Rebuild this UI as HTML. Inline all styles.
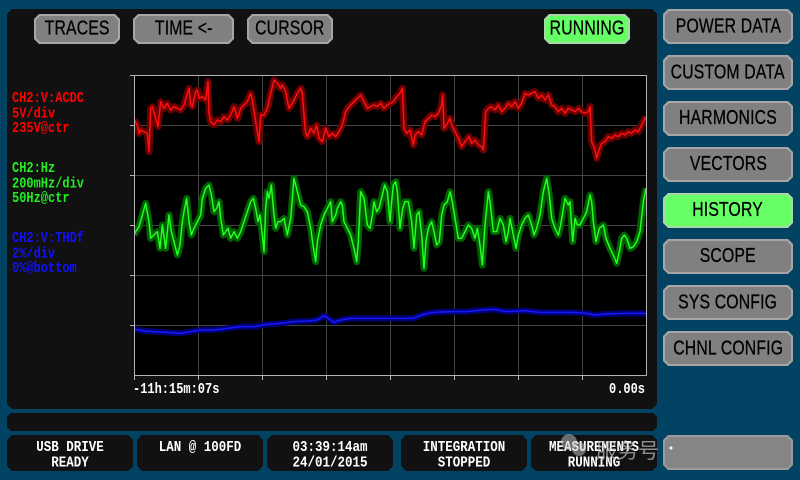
<!DOCTYPE html>
<html><head><meta charset="utf-8">
<style>
html,body{margin:0;padding:0;}
body{width:800px;height:480px;background:#024262;position:relative;overflow:hidden;font-family:"Liberation Sans",sans-serif;}
.a{position:absolute;}
.ch5{clip-path:polygon(5px 0,calc(100% - 5px) 0,100% 5px,100% calc(100% - 5px),calc(100% - 5px) 100%,5px 100%,0 calc(100% - 5px),0 5px);}
.ch4{clip-path:polygon(4px 0,calc(100% - 4px) 0,100% 4px,100% calc(100% - 4px),calc(100% - 4px) 100%,4px 100%,0 calc(100% - 4px),0 4px);}
.panel{background:#111111;}
.btn{background:#a6a6a6;}
.btn .in{position:absolute;left:2px;top:2px;right:2px;bottom:2px;background:#808080;display:flex;align-items:center;justify-content:center;}
.btn.g{background:#a8d8a8;}
.btn.g .in{background:#66ff66;}
.btn .in span{display:inline-block;font-family:"Liberation Sans",sans-serif;font-size:19px;color:#000;transform:scaleX(0.83) scaleY(1.05);white-space:nowrap;letter-spacing:0.2px;-webkit-text-stroke:0.3px #000;}
.lbl{font-family:"Liberation Mono",monospace;font-weight:bold;font-size:12px;line-height:12.5px;white-space:pre;transform:scaleY(1.2);transform-origin:0 0;}
.st{font-family:"Liberation Mono",monospace;font-weight:bold;font-size:12.5px;line-height:12.5px;color:#fff;text-align:center;white-space:pre;transform:scaleY(1.2);transform-origin:0 0;position:absolute;left:0;right:0;top:5px;}
</style></head><body>

<!-- main panel -->
<div class="a panel ch5" style="left:7px;top:9px;width:650px;height:400px;"></div>
<!-- bar -->
<div class="a panel ch4" style="left:7px;top:413px;width:650px;height:18px;"></div>

<!-- status boxes -->
<div class="a panel ch5" style="left:7px;top:435px;width:126px;height:36px;"><div class="st">USB DRIVE
READY</div></div>
<div class="a panel ch5" style="left:137px;top:435px;width:126px;height:36px;"><div class="st">LAN @ 100FD</div></div>
<div class="a panel ch5" style="left:267px;top:435px;width:126px;height:36px;"><div class="st">03:39:14am
24/01/2015</div></div>
<div class="a panel ch5" style="left:401px;top:435px;width:126px;height:36px;"><div class="st">INTEGRATION
STOPPED</div></div>
<div class="a panel ch5" style="left:531px;top:435px;width:126px;height:36px;"><div class="st">MEASUREMENTS
RUNNING</div></div>

<!-- top buttons -->
<div class="a btn ch5" style="left:34px;top:14px;width:86px;height:30px;"><div class="in ch4"><span>TRACES</span></div></div>
<div class="a btn ch5" style="left:133px;top:14px;width:101px;height:30px;"><div class="in ch4"><span>TIME &lt;-</span></div></div>
<div class="a btn ch5" style="left:247px;top:14px;width:86px;height:30px;"><div class="in ch4"><span>CURSOR</span></div></div>
<div class="a btn g ch5" style="left:544px;top:14px;width:86px;height:30px;"><div class="in ch4"><span>RUNNING</span></div></div>

<!-- right buttons -->
<div class="a btn ch5" style="left:663px;top:9px;width:130px;height:35px;"><div class="in ch4"><span>POWER DATA</span></div></div>
<div class="a btn ch5" style="left:663px;top:55px;width:130px;height:35px;"><div class="in ch4"><span>CUSTOM DATA</span></div></div>
<div class="a btn ch5" style="left:663px;top:101px;width:130px;height:35px;"><div class="in ch4"><span>HARMONICS</span></div></div>
<div class="a btn ch5" style="left:663px;top:147px;width:130px;height:35px;"><div class="in ch4"><span>VECTORS</span></div></div>
<div class="a btn g ch5" style="left:663px;top:193px;width:130px;height:35px;"><div class="in ch4"><span>HISTORY</span></div></div>
<div class="a btn ch5" style="left:663px;top:239px;width:130px;height:35px;"><div class="in ch4"><span>SCOPE</span></div></div>
<div class="a btn ch5" style="left:663px;top:285px;width:130px;height:35px;"><div class="in ch4"><span>SYS CONFIG</span></div></div>
<div class="a btn ch5" style="left:663px;top:331px;width:130px;height:35px;"><div class="in ch4"><span>CHNL CONFIG</span></div></div>
<div class="a btn ch5" style="left:663px;top:435px;width:130px;height:35px;background:#9a9a9a;"><div class="in ch4" style="background:#858585;"></div></div>

<!-- channel labels -->
<div class="a lbl" style="left:12px;top:91px;color:#ff0000;">CH2:V:ACDC
5V/div
235V@ctr</div>
<div class="a lbl" style="left:12px;top:161px;color:#22ee22;">CH2:Hz
200mHz/div
50Hz@ctr</div>
<div class="a lbl" style="left:12px;top:231px;color:#1010ff;">CH2:V:THDf
2%/div
0%@bottom</div>

<div class="a lbl" style="left:133px;top:382px;color:#fff;">-11h:15m:07s</div>
<div class="a lbl" style="left:609px;top:382px;color:#fff;">0.00s</div>

<svg class="a" style="left:0;top:0;" width="800" height="480" viewBox="0 0 800 480">
  <rect x="134" y="75" width="512" height="300" fill="#000"/>
  <g stroke="#444" stroke-width="1">
    <line x1="198.5" y1="75" x2="198.5" y2="375"/>
    <line x1="262.5" y1="75" x2="262.5" y2="375"/>
    <line x1="326.5" y1="75" x2="326.5" y2="375"/>
    <line x1="390.5" y1="75" x2="390.5" y2="375"/>
    <line x1="454.5" y1="75" x2="454.5" y2="375"/>
    <line x1="518.5" y1="75" x2="518.5" y2="375"/>
    <line x1="582.5" y1="75" x2="582.5" y2="375"/>
    <line x1="134" y1="125.5" x2="646" y2="125.5"/>
    <line x1="134" y1="175.5" x2="646" y2="175.5"/>
    <line x1="134" y1="225.5" x2="646" y2="225.5"/>
    <line x1="134" y1="275.5" x2="646" y2="275.5"/>
    <line x1="134" y1="325.5" x2="646" y2="325.5"/>
  </g>
  <defs><clipPath id="pc"><rect x="134" y="75" width="512" height="300"/></clipPath></defs>
  <g clip-path="url(#pc)">
  <g transform="translate(134,75) scale(0.333333)" fill="none" stroke-linejoin="round">
    <!-- red -->
    <polyline vector-effect="non-scaling-stroke" stroke="#6a0000" stroke-width="7" points="0,135 10,150 15,175 20,165 30,170 40,175 45,230 50,100 55,95 65,130 72,155 80,80 90,100 100,85 110,105 120,95 130,100 140,105 150,90 160,55 165,40 170,90 175,95 185,50 190,45 195,70 205,65 215,75 222,20 225,115 230,140 240,150 250,135 260,140 270,125 280,135 290,120 300,95 310,130 320,100 330,90 340,80 350,55 355,75 365,140 375,200 380,120 390,120 400,100 410,55 420,15 430,25 440,40 445,30 455,50 465,100 475,85 490,55 500,40 505,55 510,120 515,175 520,185 530,160 540,175 548,150 555,190 565,200 575,160 585,185 595,175 605,185 615,170 625,150 635,110 645,95 660,80 670,70 680,60 690,80 700,100 710,95 720,90 730,95 740,85 750,100 760,90 768,85 778,80 788,65 798,55 805,40 810,160 818,175 828,165 838,210 843,180 853,170 863,180 873,140 883,130 893,120 903,125 913,115 923,90 926,60 930,160 940,145 948,130 953,150 963,170 973,190 983,215 993,200 1005,185 1013,205 1023,195 1033,210 1043,215 1048,225 1055,110 1063,100 1073,95 1083,105 1093,90 1103,110 1113,100 1123,85 1133,95 1143,80 1153,100 1163,85 1173,55 1183,60 1193,55 1203,50 1213,70 1223,60 1233,75 1243,60 1253,90 1263,95 1273,110 1283,100 1293,115 1303,100 1313,105 1323,110 1333,100 1343,110 1353,115 1363,110 1368,95 1373,200 1383,225 1388,250 1393,230 1403,205 1413,200 1423,185 1433,190 1443,180 1453,185 1463,175 1473,180 1483,170 1493,175 1503,165 1513,170 1523,150 1536,125"/>
    <polyline vector-effect="non-scaling-stroke" stroke="#ff1010" stroke-width="1.5" points="0,135 10,150 15,175 20,165 30,170 40,175 45,230 50,100 55,95 65,130 72,155 80,80 90,100 100,85 110,105 120,95 130,100 140,105 150,90 160,55 165,40 170,90 175,95 185,50 190,45 195,70 205,65 215,75 222,20 225,115 230,140 240,150 250,135 260,140 270,125 280,135 290,120 300,95 310,130 320,100 330,90 340,80 350,55 355,75 365,140 375,200 380,120 390,120 400,100 410,55 420,15 430,25 440,40 445,30 455,50 465,100 475,85 490,55 500,40 505,55 510,120 515,175 520,185 530,160 540,175 548,150 555,190 565,200 575,160 585,185 595,175 605,185 615,170 625,150 635,110 645,95 660,80 670,70 680,60 690,80 700,100 710,95 720,90 730,95 740,85 750,100 760,90 768,85 778,80 788,65 798,55 805,40 810,160 818,175 828,165 838,210 843,180 853,170 863,180 873,140 883,130 893,120 903,125 913,115 923,90 926,60 930,160 940,145 948,130 953,150 963,170 973,190 983,215 993,200 1005,185 1013,205 1023,195 1033,210 1043,215 1048,225 1055,110 1063,100 1073,95 1083,105 1093,90 1103,110 1113,100 1123,85 1133,95 1143,80 1153,100 1163,85 1173,55 1183,60 1193,55 1203,50 1213,70 1223,60 1233,75 1243,60 1253,90 1263,95 1273,110 1283,100 1293,115 1303,100 1313,105 1323,110 1333,100 1343,110 1353,115 1363,110 1368,95 1373,200 1383,225 1388,250 1393,230 1403,205 1413,200 1423,185 1433,190 1443,180 1453,185 1463,175 1473,180 1483,170 1493,175 1503,165 1513,170 1523,150 1536,125"/>
    <!-- green -->
    <polyline vector-effect="non-scaling-stroke" stroke="#006000" stroke-width="7" points="0,480 5,470 15,455 25,420 35,385 45,440 50,490 60,480 70,470 78,520 85,450 95,520 105,420 112,470 120,500 130,540 138,510 145,440 150,410 158,370 165,440 172,480 180,460 190,440 200,420 205,370 215,340 225,330 232,360 240,410 248,400 255,380 260,430 268,480 275,470 282,460 290,490 300,470 310,490 320,470 330,440 340,410 350,380 358,370 365,400 372,440 378,420 385,480 390,530 395,400 400,350 405,370 412,330 420,420 425,460 432,440 440,440 450,430 460,480 470,430 480,310 490,350 500,390 510,395 520,410 530,460 540,530 545,560 550,500 560,450 570,420 580,400 590,380 595,440 605,420 610,400 620,380 625,390 630,440 640,460 650,480 660,520 668,560 673,500 680,350 690,370 700,450 708,460 715,420 720,380 728,410 735,400 745,360 752,330 760,350 768,440 773,380 778,330 785,320 790,350 798,460 806,400 813,380 823,380 833,440 840,520 848,420 855,410 863,480 870,580 876,500 883,460 893,440 900,470 908,510 916,500 923,420 930,390 940,380 948,350 955,380 963,430 973,490 983,490 993,470 1003,450 1013,460 1023,490 1030,460 1038,510 1045,570 1053,450 1063,350 1068,380 1078,470 1088,470 1098,430 1108,450 1116,500 1123,470 1128,430 1136,470 1146,520 1153,480 1163,450 1173,430 1183,420 1193,450 1200,480 1208,460 1218,420 1228,350 1238,310 1246,360 1253,430 1263,460 1273,480 1280,450 1288,400 1293,370 1303,390 1308,380 1316,500 1323,430 1330,450 1338,450 1348,430 1358,410 1368,360 1373,380 1378,440 1386,500 1396,460 1408,450 1416,490 1428,520 1440,545 1448,565 1456,530 1463,490 1471,480 1478,490 1488,520 1498,515 1508,500 1518,470 1528,380 1536,340"/>
    <polyline vector-effect="non-scaling-stroke" stroke="#22ff22" stroke-width="1.5" points="0,480 5,470 15,455 25,420 35,385 45,440 50,490 60,480 70,470 78,520 85,450 95,520 105,420 112,470 120,500 130,540 138,510 145,440 150,410 158,370 165,440 172,480 180,460 190,440 200,420 205,370 215,340 225,330 232,360 240,410 248,400 255,380 260,430 268,480 275,470 282,460 290,490 300,470 310,490 320,470 330,440 340,410 350,380 358,370 365,400 372,440 378,420 385,480 390,530 395,400 400,350 405,370 412,330 420,420 425,460 432,440 440,440 450,430 460,480 470,430 480,310 490,350 500,390 510,395 520,410 530,460 540,530 545,560 550,500 560,450 570,420 580,400 590,380 595,440 605,420 610,400 620,380 625,390 630,440 640,460 650,480 660,520 668,560 673,500 680,350 690,370 700,450 708,460 715,420 720,380 728,410 735,400 745,360 752,330 760,350 768,440 773,380 778,330 785,320 790,350 798,460 806,400 813,380 823,380 833,440 840,520 848,420 855,410 863,480 870,580 876,500 883,460 893,440 900,470 908,510 916,500 923,420 930,390 940,380 948,350 955,380 963,430 973,490 983,490 993,470 1003,450 1013,460 1023,490 1030,460 1038,510 1045,570 1053,450 1063,350 1068,380 1078,470 1088,470 1098,430 1108,450 1116,500 1123,470 1128,430 1136,470 1146,520 1153,480 1163,450 1173,430 1183,420 1193,450 1200,480 1208,460 1218,420 1228,350 1238,310 1246,360 1253,430 1263,460 1273,480 1280,450 1288,400 1293,370 1303,390 1308,380 1316,500 1323,430 1330,450 1338,450 1348,430 1358,410 1368,360 1373,380 1378,440 1386,500 1396,460 1408,450 1416,490 1428,520 1440,545 1448,565 1456,530 1463,490 1471,480 1478,490 1488,520 1498,515 1508,500 1518,470 1528,380 1536,340"/>
    <!-- blue -->
    <polyline vector-effect="non-scaling-stroke" stroke="#000078" stroke-width="6" points="0,762 30,768 60,770 100,772 140,775 170,770 200,765 240,765 280,760 320,755 360,755 400,748 440,745 480,740 520,738 550,735 570,722 590,735 600,742 620,735 650,730 700,730 768,730 808,730 838,730 868,718 898,712 948,710 998,710 1048,705 1078,703 1118,710 1168,707 1218,712 1268,712 1318,712 1358,715 1383,720 1418,717 1468,715 1536,715"/>
    <polyline vector-effect="non-scaling-stroke" stroke="#1818ff" stroke-width="1.5" points="0,762 30,768 60,770 100,772 140,775 170,770 200,765 240,765 280,760 320,755 360,755 400,748 440,745 480,740 520,738 550,735 570,722 590,735 600,742 620,735 650,730 700,730 768,730 808,730 838,730 868,718 898,712 948,710 998,710 1048,705 1078,703 1118,710 1168,707 1218,712 1268,712 1318,712 1358,715 1383,720 1418,717 1468,715 1536,715"/>
  </g>
  </g>
  <!-- axes / border -->
  <g stroke="#b4b4b4" stroke-width="1">
    <line x1="130" y1="75.5" x2="646.5" y2="75.5"/>
    <line x1="646.5" y1="75" x2="646.5" y2="375.5"/>
    <line x1="134.5" y1="75" x2="134.5" y2="380"/>
    <line x1="134" y1="375.5" x2="646.5" y2="375.5"/>
    <line x1="130" y1="125.5" x2="134" y2="125.5"/>
    <line x1="130" y1="175.5" x2="134" y2="175.5"/>
    <line x1="130" y1="225.5" x2="134" y2="225.5"/>
    <line x1="130" y1="275.5" x2="134" y2="275.5"/>
    <line x1="130" y1="325.5" x2="134" y2="325.5"/>
    <line x1="198.5" y1="375" x2="198.5" y2="380"/>
    <line x1="262.5" y1="375" x2="262.5" y2="380"/>
    <line x1="326.5" y1="375" x2="326.5" y2="380"/>
    <line x1="390.5" y1="375" x2="390.5" y2="380"/>
    <line x1="454.5" y1="375" x2="454.5" y2="380"/>
    <line x1="518.5" y1="375" x2="518.5" y2="380"/>
    <line x1="582.5" y1="375" x2="582.5" y2="380"/>
  </g>
  <!-- watermark -->
  <circle cx="569" cy="442" r="8" fill="rgba(200,200,205,0.5)"/>
  <circle cx="579" cy="449" r="7" fill="rgba(200,200,205,0.5)"/>
  <circle cx="671" cy="448" r="1.5" fill="#fff"/>
  <text x="596" y="458" font-family="Liberation Sans, Noto Sans CJK SC, sans-serif" font-size="21" fill="rgba(195,195,200,0.7)">服务号</text>
</svg>
</body></html>
